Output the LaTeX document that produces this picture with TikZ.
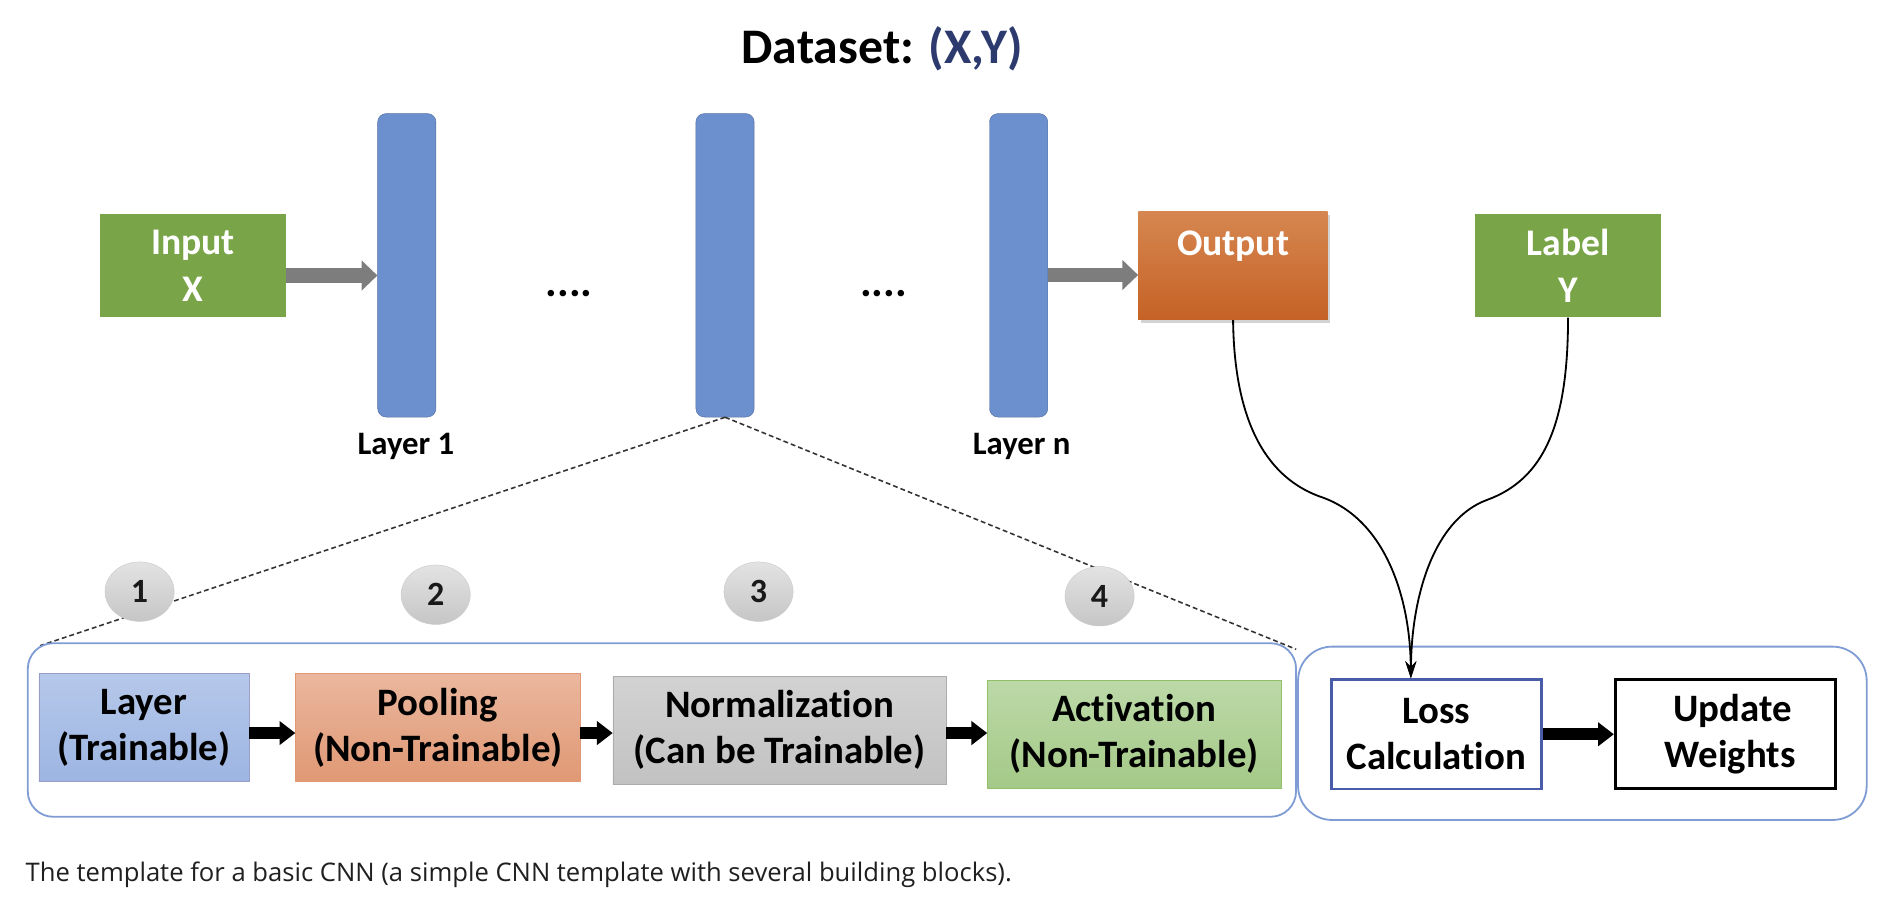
\documentclass[tikz,border=0pt]{standalone}
\usepackage{fontspec}
\setmainfont[Ligatures=NoCommon]{Carlito}
\newfontfamily\capfont{Open Sans}
\usetikzlibrary{calc,shapes.geometric,arrows.meta,shadows}

\definecolor{boxgreen}{RGB}{121,164,72}
\definecolor{barblue}{RGB}{108,143,205}
\definecolor{titleblue}{RGB}{44,58,110}
\definecolor{outtop}{RGB}{214,134,80}
\definecolor{outbot}{RGB}{197,98,38}
\definecolor{arrowgray}{RGB}{125,125,125}
\definecolor{framblue}{RGB}{127,157,212}
\definecolor{losblue}{RGB}{72,92,170}

\begin{document}
\begin{tikzpicture}[x=1pt, y=-1pt,
  gbox/.style={fill=boxgreen, text=white, minimum width=153pt, minimum height=85pt, inner sep=0pt, align=center, font=\bfseries\fontsize{31}{38}\selectfont},
  layerbar/.style={draw=barblue!80!black, fill=barblue, rounded corners=7pt, minimum width=48pt, minimum height=250pt, inner sep=0pt},
  lbl/.style={font=\bfseries\fontsize{27}{27}\selectfont},
  blk/.style={inner sep=0pt, align=center, minimum height=89pt, font=\bfseries\fontsize{32}{38}\selectfont},
  num/.style={ellipse, draw=gray!40, top color=gray!22, bottom color=gray!45, minimum width=57pt, minimum height=49pt, inner sep=0pt, text=black!90, font=\bfseries\fontsize{28}{28}\selectfont},
  roundframe/.style={draw=framblue, line width=1.5pt, inner sep=0pt},
  zoomline/.style={draw=black!80, line width=1.3pt, dash pattern=on 4pt off 2.5pt},
  grayarrow/.style={draw=arrowgray, line width=12pt, -{Triangle[length=13pt,width=24pt]}},
  bigarrow/.style={line width=10pt, -{Triangle[length=13pt,width=19pt]}},
  lossline/.style={line width=1.5pt, -{Stealth[length=14pt,width=9pt]}}
]
\useasboundingbox (0,0) rectangle (1568,759.7);

\node[anchor=base, font=\bfseries\fontsize{41}{41}\selectfont] (title) at (727,52) {Dataset: \textcolor{titleblue}{(X,Y)}};

\node[gbox] (in) at (159,219) {Input\\X};
\node[layerbar] (l1) at (335.2,218.6) {};
\node[layerbar] (lm) at (597.4,218.6) {};
\node[layerbar] (ln) at (839.3,218.6) {};
\node[gbox, top color=outtop, bottom color=outbot, minimum width=156pt, minimum height=89pt,
  drop shadow={shadow xshift=2pt, shadow yshift=-3pt, opacity=0.35}] (out) at (1016,219) {Output\\~};
\node[gbox] (lab) at (1292,219) {Label\\Y};

\node[lbl] (l1txt) at (334.5,368) {Layer 1};
\node[lbl] (lntxt) at (841.8,368) {Layer n};
\node[anchor=base, font=\bfseries\fontsize{36}{36}\selectfont] (dots1) at (469,244) {....};
\node[anchor=base, font=\bfseries\fontsize{36}{36}\selectfont] (dots2) at (728,244) {....};

\draw[grayarrow] ([yshift=-8pt]in.east) -- ([yshift=-8pt]in.east -| l1.west);
\draw[grayarrow] ([yshift=-8pt]ln.east) -- ([yshift=-8pt]ln.east -| out.west);

% zoom into one layer
\coordinate (zl) at (33,532);
\coordinate (zr) at (1068,535);
\draw[zoomline] (lm.south) -- (zl);
\draw[zoomline] (lm.south) -- (zr);

\node[roundframe, rounded corners=21pt, minimum width=1045pt, minimum height=143pt] (stack) at (545.4,601.5) {};
\node[roundframe, rounded corners=28pt, minimum width=468.5pt, minimum height=142.8pt] (lossgrp) at (1303.8,604.2) {};

\node[num] (c1) at (115,487.5) {1};
\node[num] (c2) at (359,490) {2};
\node[num] (c3) at (625,487.5) {3};
\node[num] (c4) at (906,491.3) {4};

\node[blk, minimum width=173pt, draw=blue!30!gray!60, top color={rgb,255:red,182;green,200;blue,234}, bottom color={rgb,255:red,156;green,181;blue,226}] (lay) at (118.5,599.5) {Layer\\(Trainable)};
\node[blk, minimum width=234.5pt, draw={rgb,255:red,226;green,152;blue,114}, top color={rgb,255:red,234;green,183;blue,158}, bottom color={rgb,255:red,224;green,152;blue,116}] (pool) at (360.8,599.5) {Pooling\\(Non-Trainable)};
\node[blk, minimum width=274.5pt, draw=gray!65, top color=gray!35, bottom color=gray!48] (norm) at (642.3,601.5) {Normalization\\(Can be Trainable)};
\node[blk, minimum width=241.7pt, draw={rgb,255:red,145;green,192;blue,105}, top color={rgb,255:red,188;green,217;blue,168}, bottom color={rgb,255:red,164;green,201;blue,135}] (act) at (934.5,604.8) {Activation\\(Non-Trainable)};

\node[blk, minimum width=173pt, minimum height=90pt, draw=losblue, line width=2.2pt, fill=white] (loss) at (1183.5,605) {Loss\\Calculation};
\node[blk, minimum width=181pt, minimum height=90pt, draw=black, line width=2.5pt, fill=white] (upd) at (1421.5,605) {\hspace*{12pt}Update\\\hspace*{8pt}Weights};

\draw[bigarrow] ([yshift=-4.5pt]lay.east) -- ([yshift=-4.5pt]lay.east -| pool.west);
\draw[bigarrow] ([yshift=-4.5pt]pool.east) -- ([yshift=-4.5pt]pool.east -| norm.west);
\draw[bigarrow] ([yshift=-2.5pt]norm.east) -- ([yshift=-2.5pt]norm.east -| act.west);
\draw[bigarrow] (loss.east) -- (upd.west);

\coordinate (hit) at ($(loss.north west)!0.38!(loss.north east)$);
\draw[lossline] (out.south) .. controls (1017,350) and (1045,395) .. (1090,410) .. controls (1140,428) and (1162,490) .. (hit);
\draw[lossline] (lab.south) .. controls (1292,350) and (1272,395) .. (1225,412) .. controls (1182,428) and (1163,490) .. (hit);

\node[anchor=base west, inner sep=0pt, text=black!88, font=\capfont\fontsize{21.1}{22}\selectfont] (cap) at (21,726.4) {The template for a basic CNN (a simple CNN template with several building blocks).};

\end{tikzpicture}
\end{document}
